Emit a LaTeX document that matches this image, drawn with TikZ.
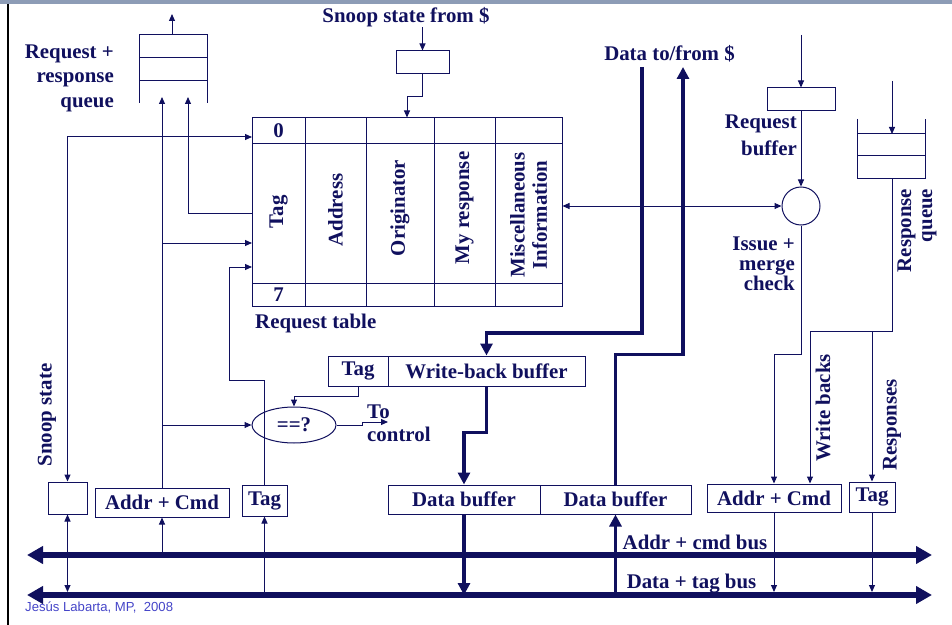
\documentclass[tikz,border=0pt]{standalone}
\usepackage{fontspec}
\setmainfont{Liberation Serif}
\newfontfamily\footfont{Liberation Sans}
\usetikzlibrary{arrows.meta, shapes.geometric}
\definecolor{navy}{HTML}{10105E}
\definecolor{band}{HTML}{8D9CB6}
\definecolor{footblue}{HTML}{4545C8}

\begin{document}
\begin{tikzpicture}[
    x=0.3mm, y=-0.3mm,
    wire/.style={navy, line width=0.3mm},
    arr/.style={wire, -{Triangle[length=2.1mm, width=1.8mm]}},
    arrboth/.style={wire, {Triangle[length=2.1mm, width=1.8mm]}-{Triangle[length=2.1mm, width=1.8mm]}},
    thickarr/.style={navy, line width=1.05mm, -{Triangle[length=3.6mm, width=3.6mm]}},
    bus/.style={navy, line width=1.8mm, {Triangle[length=4.8mm, width=5.1mm]}-{Triangle[length=4.8mm, width=5.1mm]}},
    lbl/.style={text=navy, font=\fontsize{17.8}{21}\selectfont\bfseries, inner sep=0pt},
    box/.style={wire, draw, lbl, inner sep=0pt},
]
\useasboundingbox (0,0) rectangle (952,625);

% slide frame
\fill[band] (0,0) rectangle (952,4);
\draw[black, line width=0.6mm] (8,4) -- (8,625);

% =============================================
% REQUEST + RESPONSE QUEUE (top left)
% =============================================
\node[lbl, align=right, anchor=east] (rqtext) at (114,78) {Request +\\response\\queue};
\draw[wire] (139,103) |- (207,35) -- (207,103);
\draw[wire] (139,58) -- (207,58) (139,81) -- (207,81);
\coordinate (lqtop) at (172,35);
\coordinate (lqout) at (172,14);
\coordinate (lqin1) at (162,97);
\coordinate (lqin2) at (188,97);
\draw[arr] (lqtop) -- (lqout);

% =============================================
% REQUEST TABLE
% =============================================
\node[box, minimum width=93mm, minimum height=56.4mm] (reqtable) at (407,212) {};
\draw[wire] (252,144) -- (562,144) (252,283) -- (562,283);
\foreach \x in {305,366,434,495}
  \draw[wire] (\x,118) -- (\x,306);
\node[lbl] (row0) at (278.5,131) {0};
\node[lbl] (row7) at (278.5,295) {7};
\node[lbl, rotate=90] (tagcol) at (278.5,212) {Tag};
\node[lbl, rotate=90] (addrcol) at (335.5,210) {Address};
\node[lbl, rotate=90] (origcol) at (400,208) {Originator};
\node[lbl, rotate=90] (respcol) at (464.5,208) {My response};
\node[lbl, rotate=90, align=center, font=\fontsize{17.8}{19}\selectfont\bfseries] (misccol) at (528.5,215) {Miscellaneous\\Information};
\node[lbl, anchor=west] (tabletext) at (255,323) {Request table};

\coordinate (tport0) at (252,137);
\coordinate (tport1) at (252,213);
\coordinate (tport2) at (252,243);
\coordinate (tport3) at (252,267);

% Snoop state from cache
\node[lbl] (snooptext) at (406,17) {Snoop state from \$};
\node[box, minimum width=15.9mm, minimum height=6.9mm] (snoopin) at (422.5,62.5) {};
\draw[arr] (snooptext.south -| snoopin) -- (snoopin.north);
\draw[arr] (snoopin.south) -- ++(0,22) -| (reqtable.north);

% =============================================
% LEFT SIDE: bus interface boxes
% =============================================
\node[box, minimum width=11.7mm, minimum height=9.6mm] (snoopbox) at (67.5,498) {};
\node[box, minimum width=40.2mm, minimum height=8.7mm] (acl) at (162,502.5) {Addr + Cmd};
\node[box, minimum width=13.5mm, minimum height=9.3mm] (tagl) at (264.5,500.5) {Tag};
\node[lbl, rotate=90] (snoopstate) at (47,415) {Snoop state};

\draw[arrboth] (snoopbox.north) |- (tport0);
\draw[arr] (acl.north) -- (lqin1);
\draw[arr] (acl.north |- tport2) -- (tport2);
\draw[arr] (tport1) -| (lqin2);
\coordinate (tagjog) at (229,380);
\draw[arr] (tagl.north) |- (tagjog) |- (tport3);

% =============================================
% WRITE-BACK BUFFER, COMPARATOR, DATA BUFFERS
% =============================================
\node[box, minimum width=18mm, minimum height=9mm] (wbtag) at (358,371) {Tag};
\node[box, minimum width=59.1mm, minimum height=9mm] (wbbuf) at (486.5,371) {Write-back buffer};
\node[box, ellipse, minimum width=25.2mm, minimum height=10.8mm] (eq) at (294,425) {==?};
\node[lbl, align=left, anchor=west, font=\fontsize{17.8}{20}\selectfont\bfseries] (ctrltext) at (367,423) {To\\control};
\coordinate (ctrl) at (388,422);
\draw[arr] (wbtag.south) -- ++(0,10) -| (eq.north);
\draw[arr] (acl.north |- eq) -- (eq.west);
\draw[arr] (eq.east) -- ++(26,0) |- (ctrl);

\node[box, minimum width=45.6mm, minimum height=8.7mm] (databuf1) at (464,499.5) {Data buffer};
\node[box, minimum width=45.3mm, minimum height=8.7mm] (databuf2) at (615.5,499.5) {Data buffer};

% Data to/from cache
\node[lbl] (datatext) at (669.5,54) {Data to/from \$};
\coordinate (datain) at (642,67);
\coordinate (dataout) at (683,67);
\draw[thickarr] (datain) -- ++(0,266) -| (wbbuf.north);
\draw[thickarr] (databuf2.north) -- ++(0,-130) -| (dataout);
\draw[thickarr] (wbbuf.south) -- ++(0,46) -| (databuf1.north);

% =============================================
% RIGHT SIDE: request buffer, merge check, response queue
% =============================================
\coordinate (rbsrc) at (801,35);
\node[box, minimum width=20.4mm, minimum height=6.9mm] (reqbuf) at (801,99.5) {};
\node[lbl, align=right, anchor=east, font=\fontsize{17.8}{23}\selectfont\bfseries] (reqbuftext) at (797,135.5) {Request\\buffer};
\node[wire, draw, circle, minimum size=11.4mm, inner sep=0pt] (merge) at (801,206) {};
\node[lbl, align=right, anchor=east, font=\fontsize{17.8}{17}\selectfont\bfseries] (mergetext) at (795,264) {Issue +\\merge\\check};
\draw[arr] (rbsrc) -- (reqbuf.north);
\draw[arr] (reqbuf.south) -- (merge.north);
\draw[arrboth] (reqtable.east |- merge) -- (merge.west);

\draw[wire] (857,119) |- (925,179) -- (925,119);
\draw[wire] (857,134) -- (925,134) (857,156) -- (925,156);
\coordinate (rqsrc) at (892,81);
\coordinate (rqin) at (892,134);
\coordinate (rqbot) at (892,179);
\coordinate (rqjog) at (892,331);
\node[lbl, rotate=90, align=right, font=\fontsize{17.8}{18}\selectfont\bfseries] (rqueuetext) at (917,230.5) {Response\\queue};
\draw[arr] (rqsrc) -- (rqin);

\node[box, minimum width=40.2mm, minimum height=8.4mm] (acr) at (774,498) {Addr + Cmd};
\node[box, minimum width=13.8mm, minimum height=9mm] (tagr) at (872,497) {Tag};
\node[lbl, rotate=90] (wbtext) at (823,408) {Write backs};
\node[lbl, rotate=90] (resptext) at (892,425) {Responses};

\draw[arr] (merge.south) -- ++(0,129) -| (acr.north);
\draw[arr] (rqbot) -- (rqjog) -| ([xshift=10.8mm]acr.north);
\draw[arr] (rqjog -| tagr.north) -- (tagr.north);

% =============================================
% BUSES
% =============================================
\coordinate (abusL) at (27,555);
\coordinate (abusR) at (932,555);
\coordinate (dbusL) at (27,595);
\coordinate (dbusR) at (932,595);
\draw[bus] (abusL) -- (abusR);
\draw[bus] (dbusL) -- (dbusR);
\node[lbl] (abustext) at (695,542) {Addr + cmd bus};
\node[lbl] (dbustext) at (691.5,584) {Data + tag bus};

\draw[arrboth, shorten >=0.9mm] (snoopbox.south) -- (snoopbox.south |- dbusL);
\draw[arr] (acl.south |- abusL) -- (acl.south);
\draw[arr] (tagl.south |- dbusL) -- (tagl.south);
\draw[arr, shorten >=0.9mm] (acr.south) -- (acr.south |- dbusL);
\draw[arr, shorten >=0.9mm] (tagr.south) -- (tagr.south |- dbusL);
\draw[thickarr] (databuf1.south) -- (databuf1.south |- dbusL);
\draw[thickarr] (databuf2.south |- dbusL) -- (databuf2.south);

% footer
\node[text=footblue, font=\footfont\fontsize{11.2}{13}\selectfont, anchor=west, inner sep=0pt] (footer) at (25,608) {Jesús Labarta, MP,\ \ 2008};

\end{tikzpicture}
\end{document}
